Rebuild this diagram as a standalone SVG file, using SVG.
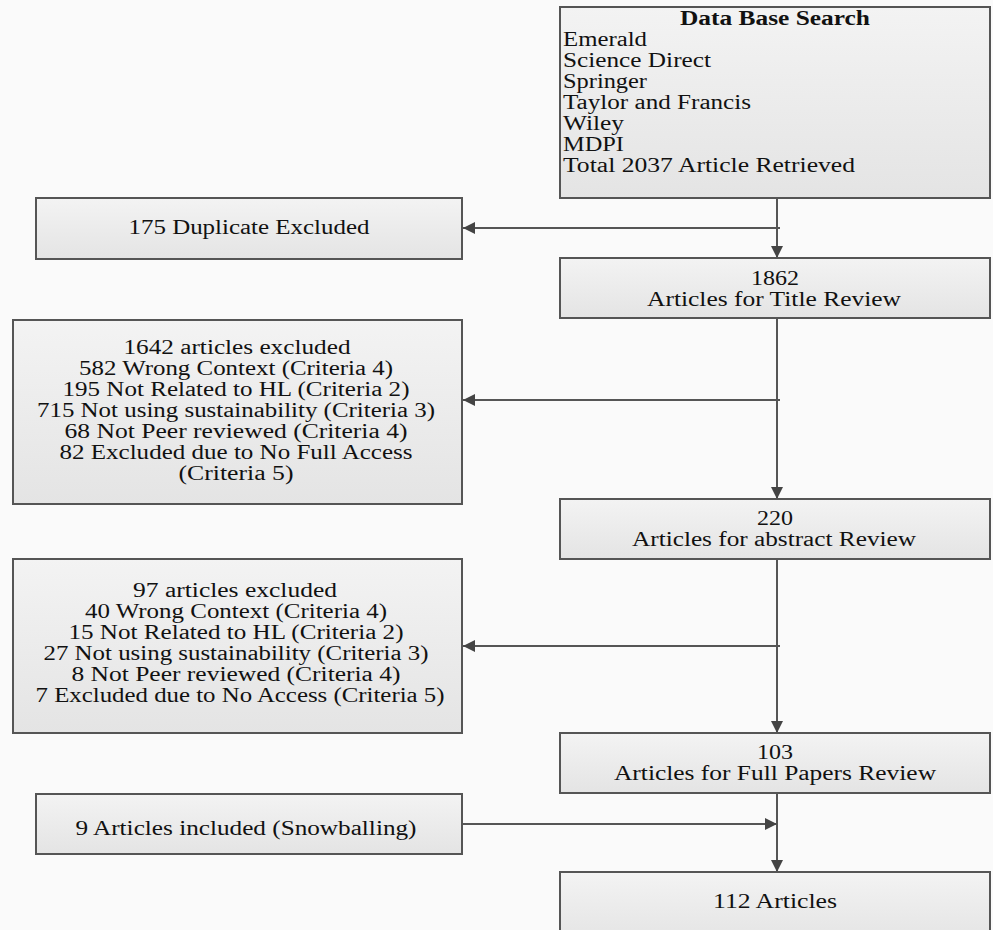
<svg xmlns="http://www.w3.org/2000/svg" width="993" height="930" viewBox="0 0 993 930">
<style>
.box{fill:url(#g);stroke:#555;stroke-width:2}
.t{font-family:"Liberation Serif","Times New Roman",serif;font-size:20px;fill:#111}
.c{text-anchor:middle}
.b{font-weight:bold}
.ln{stroke:#555;stroke-width:2;fill:none}
</style>
<defs>
<linearGradient id="g" x1="0" y1="0" x2="0" y2="1">
<stop offset="0" stop-color="#f3f3f3"/>
<stop offset="1" stop-color="#e4e4e4"/>
</linearGradient>
<marker id="ah" viewBox="0 0 10 10" refX="10" refY="5" markerWidth="12" markerHeight="12" markerUnits="userSpaceOnUse" orient="auto">
<path d="M0,0 L10,5 L0,10 Z" fill="#444"/>
</marker>
</defs>
<rect width="993" height="930" fill="#fafafa"/>
<g id="connectors">
<line class="ln" x1="777" y1="198" x2="777" y2="258" marker-end="url(#ah)"/>
<line class="ln" x1="780" y1="228" x2="463" y2="228" marker-end="url(#ah)"/>
<line class="ln" x1="777" y1="318" x2="777" y2="499" marker-end="url(#ah)"/>
<line class="ln" x1="780" y1="400" x2="463" y2="400" marker-end="url(#ah)"/>
<line class="ln" x1="777" y1="559" x2="777" y2="733" marker-end="url(#ah)"/>
<line class="ln" x1="780" y1="646" x2="463" y2="646" marker-end="url(#ah)"/>
<line class="ln" x1="777" y1="793" x2="777" y2="872" marker-end="url(#ah)"/>
<line class="ln" x1="462" y1="824" x2="777" y2="824" marker-end="url(#ah)"/>
</g>
<g id="n-search">
<rect class="box" x="560" y="7" width="430" height="191"/>
<text class="t b" x="680" y="25" textLength="190" lengthAdjust="spacingAndGlyphs">Data Base Search</text>
<text class="t" x="563" y="46" textLength="84" lengthAdjust="spacingAndGlyphs">Emerald</text>
<text class="t" x="563" y="67" textLength="148" lengthAdjust="spacingAndGlyphs">Science Direct</text>
<text class="t" x="563" y="88" textLength="84" lengthAdjust="spacingAndGlyphs">Springer</text>
<text class="t" x="563" y="109" textLength="188" lengthAdjust="spacingAndGlyphs">Taylor and Francis</text>
<text class="t" x="563" y="130" textLength="61" lengthAdjust="spacingAndGlyphs">Wiley</text>
<text class="t" x="563" y="151" textLength="61" lengthAdjust="spacingAndGlyphs">MDPI</text>
<text class="t" x="563" y="172" textLength="292" lengthAdjust="spacingAndGlyphs">Total 2037 Article Retrieved</text>
</g>
<g id="n-dup">
<rect class="box" x="36" y="198" width="426" height="61"/>
<text class="t c" x="249" y="234" textLength="241" lengthAdjust="spacingAndGlyphs">175 Duplicate Excluded</text>
</g>
<g id="n-title">
<rect class="box" x="560" y="258" width="430" height="60"/>
<text class="t c" x="775" y="285" textLength="48" lengthAdjust="spacingAndGlyphs">1862</text>
<text class="t c" x="774" y="306" textLength="254" lengthAdjust="spacingAndGlyphs">Articles for Title Review</text>
</g>
<g id="n-excl1">
<rect class="box" x="13" y="320" width="449" height="184"/>
<text class="t c" x="237" y="354" textLength="227" lengthAdjust="spacingAndGlyphs">1642 articles excluded</text>
<text class="t c" x="236" y="375" textLength="314" lengthAdjust="spacingAndGlyphs">582 Wrong Context (Criteria 4)</text>
<text class="t c" x="236" y="396" textLength="347" lengthAdjust="spacingAndGlyphs">195 Not Related to HL (Criteria 2)</text>
<text class="t c" x="236" y="417" textLength="398" lengthAdjust="spacingAndGlyphs">715 Not using sustainability (Criteria 3)</text>
<text class="t c" x="236" y="438" textLength="343" lengthAdjust="spacingAndGlyphs">68 Not Peer reviewed (Criteria 4)</text>
<text class="t c" x="236" y="459" textLength="353" lengthAdjust="spacingAndGlyphs">82 Excluded due to No Full Access</text>
<text class="t c" x="236" y="480" textLength="115" lengthAdjust="spacingAndGlyphs">(Criteria 5)</text>
</g>
<g id="n-abstract">
<rect class="box" x="560" y="499" width="430" height="60"/>
<text class="t c" x="775" y="525" textLength="36" lengthAdjust="spacingAndGlyphs">220</text>
<text class="t c" x="774" y="546" textLength="284" lengthAdjust="spacingAndGlyphs">Articles for abstract Review</text>
</g>
<g id="n-excl2">
<rect class="box" x="13" y="559" width="449" height="174"/>
<text class="t c" x="235" y="597" textLength="204" lengthAdjust="spacingAndGlyphs">97 articles excluded</text>
<text class="t c" x="236" y="618" textLength="302" lengthAdjust="spacingAndGlyphs">40 Wrong Context (Criteria 4)</text>
<text class="t c" x="236" y="639" textLength="335" lengthAdjust="spacingAndGlyphs">15 Not Related to HL (Criteria 2)</text>
<text class="t c" x="236" y="660" textLength="385" lengthAdjust="spacingAndGlyphs">27 Not using sustainability (Criteria 3)</text>
<text class="t c" x="236" y="681" textLength="329" lengthAdjust="spacingAndGlyphs">8 Not Peer reviewed (Criteria 4)</text>
<text class="t c" x="240" y="702" textLength="409" lengthAdjust="spacingAndGlyphs">7 Excluded due to No Access (Criteria 5)</text>
</g>
<g id="n-full">
<rect class="box" x="560" y="733" width="430" height="60"/>
<text class="t c" x="775" y="759" textLength="36" lengthAdjust="spacingAndGlyphs">103</text>
<text class="t c" x="775" y="780" textLength="322" lengthAdjust="spacingAndGlyphs">Articles for Full Papers Review</text>
</g>
<g id="n-snow">
<rect class="box" x="36" y="794" width="426" height="60"/>
<text class="t c" x="246" y="835" textLength="341" lengthAdjust="spacingAndGlyphs">9 Articles included (Snowballing)</text>
</g>
<g id="n-final">
<rect class="box" x="560" y="872" width="430" height="70"/>
<text class="t c" x="775" y="908" textLength="124" lengthAdjust="spacingAndGlyphs">112 Articles</text>
</g>
</svg>
